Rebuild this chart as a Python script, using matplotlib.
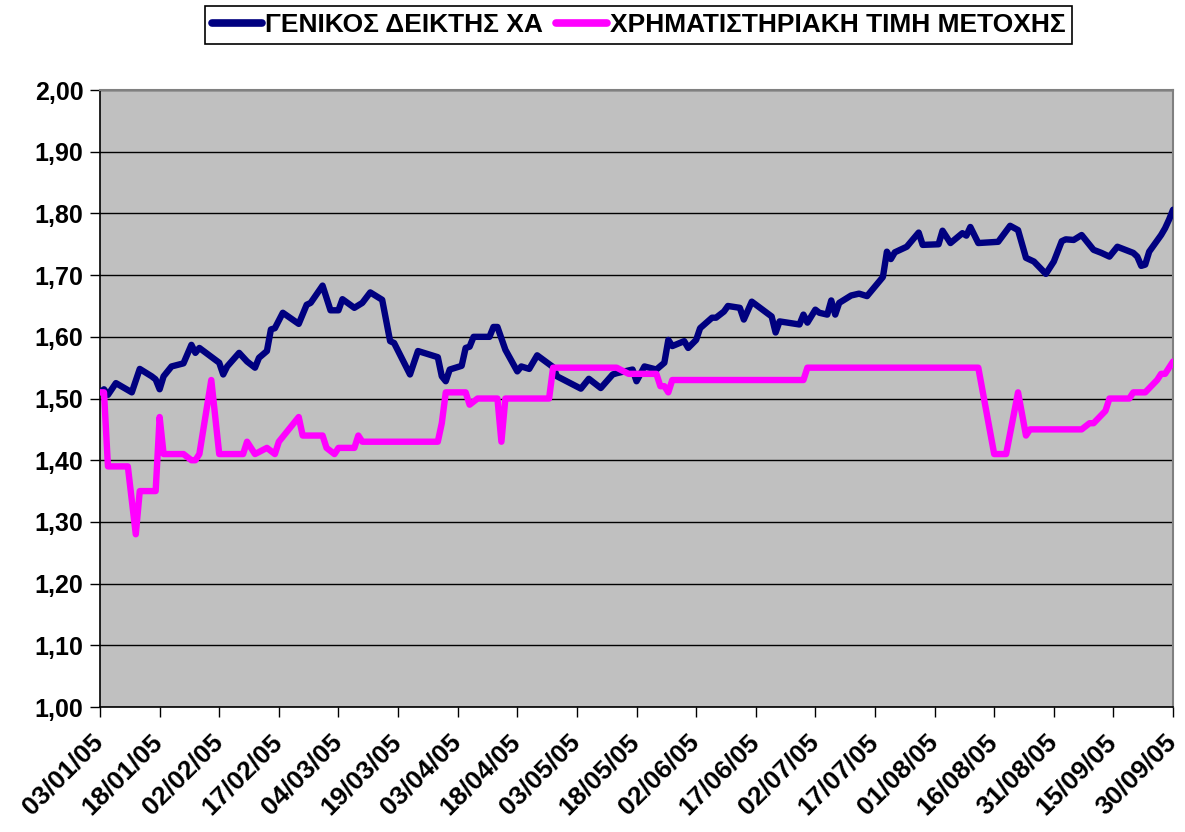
import numpy as np
import matplotlib
matplotlib.use("Agg")
import matplotlib.pyplot as plt
import matplotlib.dates as mdates
import matplotlib.transforms as mtransforms
from matplotlib.ticker import FuncFormatter, MultipleLocator

plt.rcParams['font.family'] = ['Liberation Sans', 'DejaVu Sans']
plt.rcParams['font.weight'] = 'bold'

start_date = '2005-01-03'
series_names = ['ΓΕΝΙΚΟΣ ΔΕΙΚΤΗΣ ΧΑ', 'ΧΡΗΜΑΤΙΣΤΗΡΙΑΚΗ ΤΙΜΗ ΜΕΤΟΧΗΣ']

# days since 03/01/05 and values
index_days = [0, 1, 2, 4, 8, 10, 13, 14, 15, 16, 18, 21, 23, 24, 25, 30, 31, 32, 35, 37,
              39, 40, 42, 43, 44, 46, 50, 52, 53, 56, 58, 60, 61, 64, 66, 68, 71, 73, 74, 78,
              80, 85, 86, 87, 88, 91, 92, 93, 94, 98, 99, 100, 102, 105, 106, 108, 110, 114, 115, 121,
              123, 126, 129, 130, 134, 135, 137, 140, 142, 143, 144, 147, 148, 150, 151, 154, 155, 157, 158, 161,
              162, 164, 169, 170, 171, 176, 177, 178, 180, 181, 183, 184, 185, 186, 189, 191, 193, 197, 198, 199,
              200, 203, 206, 207, 211, 212, 214, 217, 218, 219, 221, 226, 229, 231, 233, 235, 238, 240, 242, 243,
              245, 247, 250, 252, 254, 256, 260, 261, 262, 263, 264, 267, 268, 269, 270]
index_vals = [1.510, 1.515, 1.506, 1.525, 1.510, 1.548, 1.536, 1.531, 1.515, 1.536, 1.552, 1.557, 1.587, 1.574, 1.582, 1.558, 1.539, 1.552, 1.574, 1.560,
              1.550, 1.566, 1.577, 1.612, 1.614, 1.639, 1.621, 1.652, 1.655, 1.683, 1.643, 1.643, 1.661, 1.647, 1.655, 1.672, 1.660, 1.593, 1.590, 1.539,
              1.577, 1.567, 1.536, 1.528, 1.547, 1.553, 1.582, 1.584, 1.600, 1.600, 1.616, 1.616, 1.579, 1.544, 1.552, 1.548, 1.570, 1.551, 1.536, 1.516,
              1.532, 1.517, 1.539, 1.541, 1.547, 1.528, 1.552, 1.547, 1.558, 1.595, 1.585, 1.593, 1.582, 1.595, 1.614, 1.631, 1.631, 1.641, 1.650, 1.647,
              1.628, 1.657, 1.633, 1.607, 1.625, 1.620, 1.636, 1.623, 1.644, 1.639, 1.636, 1.659, 1.636, 1.655, 1.667, 1.670, 1.666, 1.697, 1.738, 1.726,
              1.737, 1.746, 1.769, 1.749, 1.750, 1.772, 1.752, 1.768, 1.764, 1.778, 1.752, 1.754, 1.780, 1.773, 1.728, 1.722, 1.702, 1.722, 1.755, 1.758,
              1.757, 1.765, 1.741, 1.736, 1.730, 1.746, 1.736, 1.730, 1.715, 1.717, 1.738, 1.765, 1.776, 1.790, 1.806]

price_days = [0, 1, 2, 7, 9, 10, 14, 15, 16, 21, 23, 24, 25, 28, 30, 36, 37, 39, 42, 44,
              45, 50, 51, 56, 57, 59, 60, 64, 65, 66, 85, 86, 87, 92, 93, 95, 100, 101, 102, 113,
              114, 130, 133, 140, 141, 142, 143, 144, 177, 178, 221, 225, 228, 231, 233, 234, 247, 249, 250, 253,
              254, 259, 260, 263, 266, 267, 268, 270]
price_vals = [1.51, 1.51, 1.39, 1.39, 1.28, 1.35, 1.35, 1.47, 1.41, 1.41, 1.40, 1.40, 1.41, 1.53, 1.41, 1.41, 1.43, 1.41, 1.42, 1.41,
              1.43, 1.47, 1.44, 1.44, 1.42, 1.41, 1.42, 1.42, 1.44, 1.43, 1.43, 1.46, 1.51, 1.51, 1.49, 1.50, 1.50, 1.43, 1.50, 1.50,
              1.55, 1.55, 1.54, 1.54, 1.52, 1.52, 1.51, 1.53, 1.53, 1.55, 1.55, 1.41, 1.41, 1.51, 1.44, 1.45, 1.45, 1.46, 1.46, 1.48,
              1.50, 1.50, 1.51, 1.51, 1.53, 1.54, 1.54, 1.56]

tick_step_days = 15
y_min, y_max, y_step = 1.00, 2.00, 0.10

base = np.datetime64(start_date)
idx_x = base + np.array(index_days).astype('timedelta64[D]')
prc_x = base + np.array(price_days).astype('timedelta64[D]')
end = base + np.timedelta64(max(index_days), 'D')
ticks = base + np.arange(0, max(index_days) + 1, tick_step_days).astype('timedelta64[D]')

fig = plt.figure(figsize=(11.85, 8.32), dpi=100)
ax = fig.add_axes([0.0844, 0.1502, 0.9055, 0.7416])
ax.set_facecolor('#C0C0C0')

lw = 4.6
l1, = ax.plot(idx_x, index_vals, color='#000080', lw=lw, solid_joinstyle='round', solid_capstyle='round', zorder=3)
l2, = ax.plot(prc_x, price_vals, color='#FF00FF', lw=lw, solid_joinstyle='round', solid_capstyle='round', zorder=3)

ax.set_ylim(y_min, y_max)
ax.set_xlim(base, end)
ax.yaxis.set_major_locator(MultipleLocator(y_step))
ax.yaxis.set_major_formatter(FuncFormatter(lambda v, p: f"{v:.2f}".replace('.', ',')))
ax.grid(axis='y', color='black', lw=1.0)
ax.set_axisbelow(True)

ax.set_xticks(ticks)
ax.xaxis.set_major_formatter(mdates.DateFormatter('%d/%m/%y'))

ax.tick_params(axis='y', labelsize=18, direction='out', length=7, width=1, colors='black', pad=5)
ax.tick_params(axis='x', labelsize=19, direction='out', length=7, width=1, colors='black', pad=9)

shift = mtransforms.ScaledTranslation(-9 / 100, 0, fig.dpi_scale_trans)
for lab in ax.get_xticklabels():
    lab.set_rotation(45)
    lab.set_ha('right')
    lab.set_va('top')
    lab.set_rotation_mode('anchor')
    lab.set_transform(lab.get_transform() + shift)
for lab in ax.get_xticklabels() + ax.get_yticklabels():
    lab.set_fontweight('bold')

for s in ['left', 'bottom']:
    ax.spines[s].set_color('black')
    ax.spines[s].set_linewidth(1.2)
for s in ['top', 'right']:
    ax.spines[s].set_color('#808080')
    ax.spines[s].set_linewidth(1.5)

leg = fig.legend([l1, l2], series_names, loc='center', bbox_to_anchor=(0.539, 0.97), ncol=2,
                 frameon=True, fancybox=False, edgecolor='black', framealpha=1,
                 prop={'size': 19, 'weight': 'bold'}, handlelength=1.9, handletextpad=0.12,
                 columnspacing=0.5, borderpad=0.25, handleheight=0.6)
leg.get_frame().set_linewidth(1.2)
for h in leg.get_lines():
    h.set_linewidth(5.5)
    h.set_solid_capstyle('round')

fig.savefig('out.png', dpi=100)
